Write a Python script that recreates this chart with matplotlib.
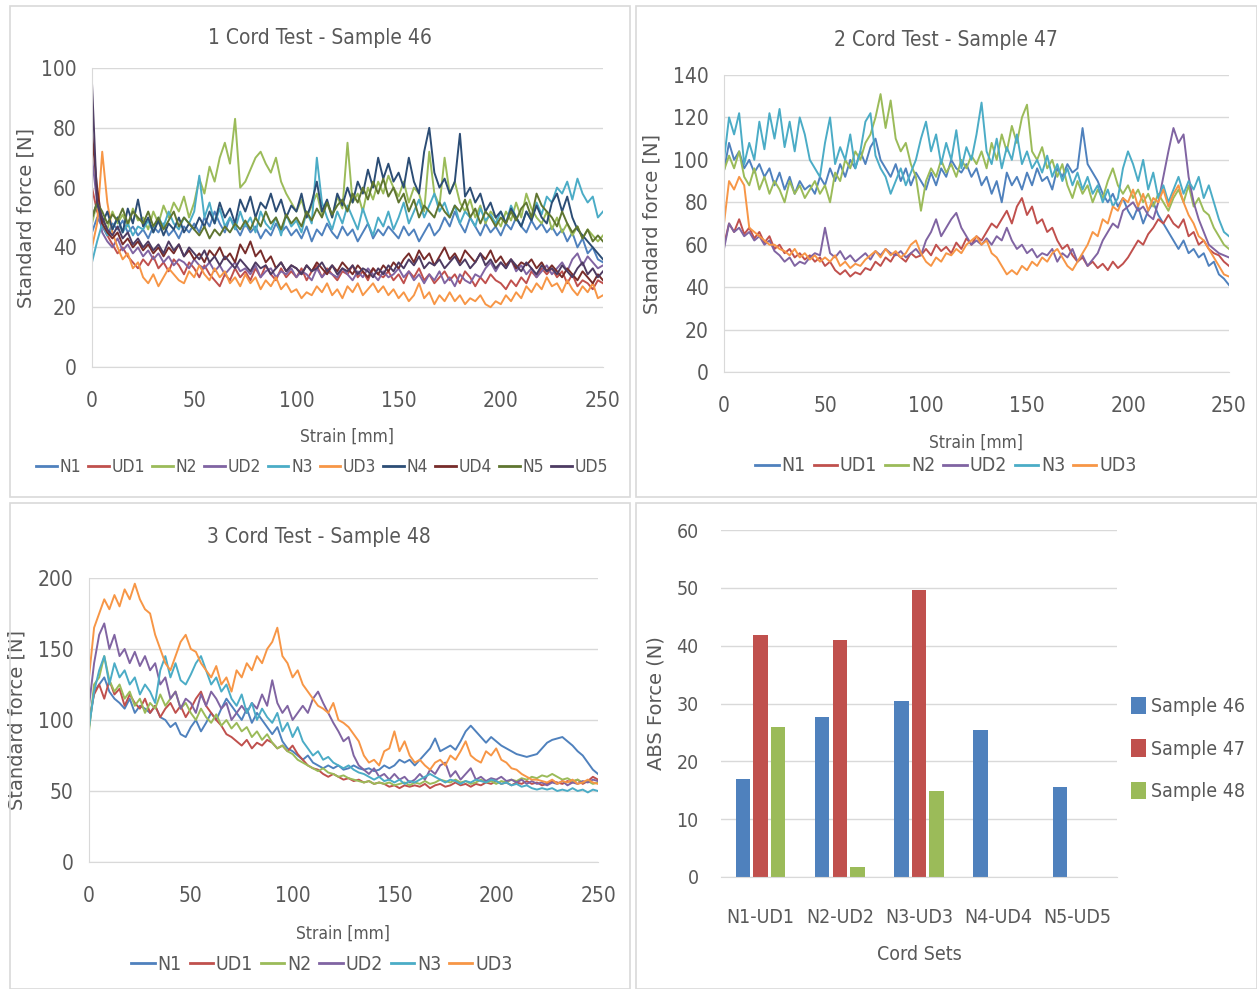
import numpy as np
import matplotlib.pyplot as plt
from matplotlib.patches import Rectangle
from matplotlib.lines import Line2D
from matplotlib.font_manager import FontProperties, findfont

W, H = 1257, 989
GREY = '#595959'
GRID = '#D9D9D9'

# pick a narrow face for the chart text
NARROW = FontProperties(family=['Liberation Sans Narrow', 'DejaVu Sans'], stretch='condensed')
NARROW_FILE = findfont(NARROW)


def narrow(size):
    return FontProperties(fname=NARROW_FILE, size=size)


colors = {'N1': '#4F81BD', 'UD1': '#C0504D', 'N2': '#9BBB59', 'UD2': '#8064A2',
          'N3': '#4BACC6', 'UD3': '#F79646', 'N4': '#2C4D75', 'UD4': '#772C2A',
          'N5': '#5F7530', 'UD5': '#4D3B62'}

# Sample 46 - force readings every 2.5 mm of strain (0..250 mm)
s46_N1 = [45, 50, 47, 44, 48, 46, 49, 45, 47, 44,
          46, 43, 47, 45, 48, 44, 46, 43, 47, 45,
          48, 45, 50, 47, 52, 48, 45, 50, 47, 44,
          48, 45, 47, 43, 46, 44, 48, 45, 47, 44,
          46, 43, 47, 42, 46, 44, 48, 45, 43, 47,
          44, 46, 42, 45, 48, 43, 46, 44, 47, 45,
          43, 47, 44, 46, 42, 45, 48, 44, 46, 50,
          47, 52, 48, 45, 50, 47, 44, 48, 45, 47,
          44, 48, 46, 50, 47, 45, 49, 46, 48, 45,
          47, 44, 46, 42, 45, 40, 43, 38, 40, 36,
          35]
s46_UD1 = [60, 52, 48, 44, 41, 38, 40, 37, 35, 33,
           36, 34, 37, 33, 35, 32, 36, 34, 31, 35,
           33, 30, 34, 31, 29, 27, 31, 29, 33, 30,
           32, 29, 33, 30, 34, 31, 29, 33, 30, 32,
           30, 33, 29, 32, 34, 30, 33, 31, 29, 32,
           31, 34, 30, 32, 29, 33, 31, 30, 32, 29,
           31, 28, 32, 30, 33, 29, 31, 28, 30, 32,
           29, 31, 28, 32, 30, 27, 30, 28, 31, 29,
           28, 26, 29, 27, 30, 28, 32, 30, 33, 31,
           33, 30, 32, 28, 31, 27, 29, 28, 26, 29,
           28]
s46_N2 = [48, 55, 50, 46, 52, 48, 51, 47, 53, 49,
          50, 46, 52, 48, 54, 50, 55, 52, 57, 50,
          55, 63, 58, 67, 62, 70, 75, 68, 83, 60,
          62, 66, 70, 72, 68, 65, 70, 62, 58, 55,
          52, 56, 50, 54, 58, 51, 55, 50, 57, 53,
          75, 55, 58, 52, 60, 56, 62, 58, 64, 60,
          57, 62, 55, 60, 58, 52, 72, 58, 54, 70,
          58, 62, 55, 52, 56, 50, 54, 48, 52, 50,
          47, 52, 49, 55, 50, 58, 53, 50, 48, 52,
          46, 50, 45, 48, 44, 47, 43, 46, 44, 42,
          44]
s46_UD2 = [70, 55, 45, 42, 40, 43, 39, 41, 38, 40,
           37, 39, 36, 38, 35, 37, 34, 36, 35, 33,
           36, 34, 33, 35, 32, 34, 31, 33, 35, 32,
           33, 31, 34, 30, 32, 33, 30, 32, 31, 33,
           30, 32, 31, 29, 33, 30, 32, 31, 30, 33,
           31, 29, 32, 30, 33, 31, 29, 32, 30, 31,
           33, 30, 32, 29, 31, 28, 31, 29, 32, 28,
           30, 27, 31, 29, 28, 31, 30, 33, 35, 32,
           35, 33, 36, 32, 34, 31, 33, 30, 32, 34,
           31, 33, 35, 32, 36, 38, 34, 37, 35, 33,
           34]
s46_N3 = [35, 42, 48, 44, 46, 50, 45, 48, 44, 47,
          46, 49, 45, 50, 47, 52, 48, 46, 50, 48,
          52, 64, 50, 55, 48, 53, 47, 50, 46, 52,
          47, 50, 45, 52, 48, 46, 50, 44, 51, 47,
          49, 45, 52, 48, 70, 55, 50, 46, 52, 48,
          54, 50, 46, 53, 48, 44, 50, 47, 52, 46,
          50, 55, 48, 52, 56, 50, 54, 58, 52, 55,
          50, 54, 48, 52, 50, 47, 53, 49, 51, 48,
          52, 48, 54, 50, 47, 52, 49, 55, 51, 57,
          55, 60, 58, 62, 56, 63, 58, 55, 57, 50,
          52]
s46_UD3 = [40, 48, 72, 55, 45, 40, 36, 38, 33, 35,
           30, 28, 31, 27, 30, 33, 31, 29, 28, 32,
           30, 34, 31, 29, 33, 30, 32, 28, 30, 27,
           31, 28, 30, 26, 29, 27, 30, 26, 28, 25,
           26, 23, 25, 24, 27, 25, 28, 24, 26, 23,
           27, 25, 28, 24, 26, 28, 25, 27, 24, 26,
           23, 25, 22, 24, 28, 23, 25, 21, 24, 22,
           25, 22, 24, 21, 23, 22, 24, 21, 20, 22,
           21, 24, 22, 25, 23, 27, 25, 28, 26, 30,
           27, 28, 25, 29, 26, 24, 27, 25, 28, 23,
           24]
s46_N4 = [50, 55, 48, 52, 46, 50, 45, 53, 48, 56,
          47, 50, 45, 49, 44, 48, 46, 50, 45, 48,
          46, 50, 47, 52, 48, 55, 50, 53, 48, 56,
          52, 57, 50, 55, 53, 58, 52, 56, 50, 54,
          52, 58, 50, 55, 62, 52, 56, 50, 58, 54,
          60, 55, 62, 58, 66, 60, 70, 63, 68, 62,
          65, 60, 70, 62, 58, 72, 80, 65, 60, 63,
          58, 62, 78, 57, 60, 55, 58, 52, 55, 50,
          52, 48, 53, 50, 47, 52, 49, 54, 50, 48,
          55, 58, 52, 57, 50, 46, 44, 42, 40, 38,
          36]
s46_UD4 = [78, 60, 48, 45, 43, 45, 41, 43, 40, 42,
           39, 41, 38, 40, 37, 40, 38, 41, 37, 39,
           36, 38, 35, 39, 37, 40, 36, 38, 35, 41,
           38, 42, 37, 39, 35, 37, 33, 35, 32, 34,
           33, 31, 34, 32, 35, 33, 31, 34, 32, 35,
           33, 31, 34, 32, 30, 33, 31, 34, 32, 35,
           33, 36, 38, 35, 39, 36, 38, 34, 37, 40,
           36, 38, 35, 39, 37, 35, 38, 36, 39, 35,
           37, 34, 36, 33, 35, 34, 36, 33, 35, 32,
           34, 32, 30, 33, 31, 29, 32, 30, 28, 31,
           29]
s46_N5 = [50, 55, 52, 48, 51, 49, 53, 48, 52, 50,
          48, 52, 47, 50, 46, 49, 52, 47, 50, 48,
          46, 44, 47, 43, 46, 44, 47, 45, 48, 46,
          49, 46, 50, 47, 52, 48, 50, 46, 51, 48,
          50, 47, 52, 49, 53, 50, 55, 51, 54, 56,
          52, 58, 55, 60, 56, 62, 58, 63, 57, 60,
          55, 58, 52, 56, 50, 54, 52, 50, 55, 52,
          50, 54, 52, 56, 50, 53, 48, 52, 50, 47,
          50, 48, 52, 49, 53, 55, 50, 58, 54, 52,
          50, 47, 52, 48, 45, 47, 43, 46, 42, 44,
          42]
s46_UD5 = [95, 55, 50, 46, 44, 47, 43, 45, 41, 43,
           40, 42, 39, 41, 38, 42, 39, 41, 37, 40,
           38, 36, 39, 35, 37, 34, 37, 35, 33, 36,
           34, 32, 35, 33, 34, 31, 33, 35, 32, 34,
           33, 31, 34, 32, 33, 35, 32, 34, 31, 33,
           32, 34, 31, 33, 32, 30, 33, 31, 34, 32,
           35, 33, 36, 34, 37, 33, 35, 34, 36, 33,
           35, 37, 34, 36, 33, 35, 38, 34, 36, 33,
           35, 33, 36, 34, 32, 35, 33, 31, 34, 32,
           33, 31, 34, 32, 30, 33, 35, 31, 33, 30,
           32]

# Sample 47
s47_N1 = [95, 108, 100, 104, 96, 100, 94, 98, 92, 96,
          88, 94, 86, 92, 84, 90, 86, 88, 84, 92,
          88, 96, 90, 98, 92, 100, 96, 104, 98, 106,
          110, 100, 96, 92, 98, 90, 96, 88, 94, 90,
          86, 94, 88, 96, 92, 100, 96, 94, 98, 92,
          96, 88, 92, 84, 90, 80, 94, 88, 92, 86,
          94, 88, 96, 90, 92, 86, 96, 92, 98, 94,
          96, 115, 98, 94, 90, 84, 80, 84, 78, 82,
          76, 72, 78, 70, 76, 80, 74, 70, 66, 62,
          58, 62, 56, 58, 54, 56, 50, 52, 46, 44,
          41]
s47_UD1 = [60, 70, 66, 72, 65, 68, 63, 66, 61, 64,
           58, 60, 56, 58, 54, 56, 53, 55, 52, 54,
           50, 52, 48, 46, 48, 45, 47, 46, 49, 48,
           52, 50, 54, 52, 56, 54, 52, 56, 54, 55,
           58, 55, 60, 57, 59, 56, 61, 58, 63, 60,
           64, 62, 66, 70, 68, 72, 76, 70, 78, 82,
           74, 78, 70, 72, 66, 68, 62, 58, 60, 55,
           52, 54, 50, 52, 49, 51, 48, 52, 49, 51,
           54, 58, 62, 60, 65, 68, 72, 70, 74, 70,
           68, 72, 64, 66, 60, 62, 58, 56, 55, 52,
           50]
s47_N2 = [95, 102, 96, 104, 92, 88, 96, 86, 92, 84,
          90, 86, 80, 90, 84, 88, 82, 86, 90, 84,
          88, 80, 94, 90, 100, 96, 104, 100, 108, 112,
          120, 131, 115, 128, 110, 104, 108, 98, 92, 76,
          90, 96, 92, 100, 94, 98, 92, 100, 96, 102,
          98, 104, 96, 108, 100, 112, 104, 116, 108, 120,
          126, 104, 100, 106, 96, 100, 92, 98, 88, 82,
          90, 84, 88, 80, 86, 82, 90, 96, 88, 84,
          88, 82, 86, 80, 84, 78, 84, 80, 76, 82,
          86, 80, 88, 78, 82, 76, 74, 68, 64, 60,
          58]
s47_UD2 = [58, 70, 66, 68, 64, 66, 62, 64, 60, 62,
           57, 55, 52, 54, 50, 52, 51, 54, 56, 55,
           68, 56, 54, 57, 53, 55, 52, 54, 56, 53,
           57, 55, 58, 56, 55, 57, 54, 56, 58, 55,
           62, 66, 72, 64, 68, 72, 75, 68, 64, 60,
           62, 60, 63, 60, 64, 62, 68, 62, 58, 60,
           56, 58, 54, 56, 55, 58, 52, 56, 54, 58,
           52, 55, 50, 53, 56, 62, 66, 70, 68, 76,
           78, 80, 76, 78, 74, 72, 80, 92, 104, 115,
           108, 112, 92, 80, 72, 66, 60, 58, 56, 55,
           54]
s47_N3 = [100, 120, 112, 122, 98, 108, 100, 118, 105, 122,
          110, 124, 106, 118, 104, 120, 112, 100, 96, 92,
          108, 120, 98, 106, 100, 112, 96, 104, 118, 122,
          102, 96, 92, 84, 90, 96, 88, 94, 100, 110,
          118, 104, 112, 98, 108, 100, 114, 96, 106, 100,
          112, 127, 104, 98, 110, 96, 106, 100, 112, 98,
          104, 96, 100, 94, 102, 92, 98, 90, 96, 88,
          94, 86, 92, 84, 88, 80, 86, 78, 82, 96,
          104, 98, 90, 100, 86, 94, 82, 88, 80, 86,
          92, 84, 90, 86, 92, 82, 88, 80, 72, 66,
          64]
s47_UD3 = [70, 90, 86, 92, 88, 68, 66, 64, 62, 60,
           60, 58, 57, 55, 58, 54, 56, 53, 55, 52,
           54, 52, 55, 50, 52, 49, 51, 50, 53, 55,
           57, 54, 58, 55, 57, 54, 56, 60, 62, 56,
           52, 50, 54, 52, 56, 55, 58, 56, 60, 62,
           64, 60, 62, 56, 54, 50, 46, 48, 46, 50,
           48, 52, 50, 54, 52, 56, 58, 54, 50, 48,
           52, 56, 60, 66, 64, 72, 70, 78, 76, 82,
           80, 86, 78, 84, 76, 82, 80, 86, 78, 84,
           88, 80, 74, 70, 64, 62, 58, 54, 50, 46,
           45]

# Sample 48
s48_N1 = [95, 120, 125, 130, 120, 115, 112, 108, 115, 105,
          110, 108, 105, 110, 102, 100, 95, 98, 90, 88,
          95, 100, 92, 98, 105, 100, 108, 115, 110, 105,
          100, 108, 98, 105, 100, 95, 90, 95, 85, 80,
          78, 75, 72, 75, 70, 68, 66, 68, 66, 68,
          65, 66, 68, 66, 65, 66, 64, 65, 68, 66,
          68, 72, 70, 72, 68, 72, 76, 80, 87, 78,
          80, 82, 79, 85, 92, 96, 92, 88, 84, 88,
          85, 82, 80, 78, 76, 75, 74, 75, 76, 80,
          84, 86, 87, 88, 85, 82, 78, 75, 70, 65,
          62]
s48_UD1 = [100, 118, 125, 115, 128, 118, 122, 110, 118, 112,
           108, 115, 105, 110, 102, 108, 112, 105, 110, 102,
           108, 115, 120, 110, 105, 100, 96, 90, 88, 85,
           82, 86, 80, 84, 82, 86, 84, 80, 82, 78,
           82, 76, 72, 68, 66, 65, 62, 60, 62, 60,
           58, 59, 57, 58, 56, 57, 55, 56, 55, 53,
           54, 52, 54, 53, 54, 53, 55, 52, 54, 55,
           53, 54, 56, 54, 55, 53, 55, 54, 56, 55,
           57, 55, 56, 54, 56, 55, 57, 55, 56, 54,
           55, 57, 56, 55, 57, 56, 58, 55, 57, 60,
           58]
s48_N2 = [92, 125, 130, 145, 128, 120, 125, 115, 120, 110,
          115, 105, 112, 108, 118, 110, 115, 120, 108, 112,
          105, 100, 108, 102, 98, 104, 96, 100, 94, 98,
          92, 95, 88, 92, 86, 90, 84, 80, 82, 78,
          76, 72, 70, 68, 66, 64, 66, 63, 62, 60,
          61, 59, 58, 57, 56, 57, 55, 56, 55, 56,
          54, 55, 56, 54, 56, 55, 57, 55, 56, 58,
          57, 56, 58, 56, 57, 55, 56, 58, 56, 57,
          55, 57, 56, 58, 57, 59, 58, 60, 59, 61,
          60, 62, 60, 58, 59, 57, 58, 56, 57, 55,
          56]
s48_UD2 = [110, 140, 160, 168, 150, 160, 145, 150, 140, 148,
           138, 145, 135, 140, 125, 130, 115, 120, 108, 115,
           112, 105, 118, 110, 120, 115, 108, 112, 100, 105,
           110, 105, 112, 108, 118, 110, 128, 112, 105, 110,
           100, 105, 110, 105, 115, 120, 112, 105, 98, 92,
           85, 88, 75, 68, 65, 62, 66, 60, 62, 58,
           62, 58, 60, 56, 58, 62, 58, 65, 62, 68,
           70, 60, 64, 58, 62, 66, 58, 60, 57, 59,
           58, 60, 57, 58, 56, 58, 55, 57, 55, 56,
           54, 56, 55, 57, 54, 56, 55, 57, 56, 58,
           57]
s48_N3 = [95, 120, 135, 145, 125, 140, 130, 135, 125, 130,
          118, 125, 120, 112, 135, 145, 130, 140, 128, 125,
          132, 140, 145, 135, 125, 130, 120, 125, 115, 110,
          118, 105, 112, 100, 108, 102, 98, 105, 92, 98,
          88, 95, 85, 80, 75, 78, 72, 74, 70, 68,
          66, 68, 65, 63, 62, 60, 58, 60, 57, 58,
          56, 58, 55, 57, 56, 58, 60, 62, 60, 58,
          56, 58, 57, 55, 57, 56, 58, 57, 56, 58,
          57, 55, 56, 54, 55, 53, 54, 52, 51, 52,
          51, 52, 50, 51, 50, 52, 50, 51, 49, 51,
          50]
s48_UD3 = [130, 165, 175, 185, 178, 188, 180, 192, 185, 196,
           185, 178, 175, 160, 150, 140, 135, 145, 155, 160,
           150, 148, 140, 135, 130, 138, 125, 130, 120, 135,
           130, 140, 135, 145, 140, 150, 155, 165, 145, 140,
           130, 135, 125, 120, 115, 110, 108, 105, 112, 100,
           98, 95, 90, 85, 75, 70, 72, 68, 78, 80,
           92, 78, 85, 75, 70, 72, 68, 65, 70, 72,
           68, 75, 72, 78, 85, 75, 72, 70, 78, 75,
           80, 72, 70, 66, 65, 62, 60, 58, 58, 57,
           56, 58, 55, 57, 56, 58, 55, 56, 58, 56,
           55]

# Absolute force difference between cord pairs
cord_sets = ['N1-UD1', 'N2-UD2', 'N3-UD3', 'N4-UD4', 'N5-UD5']
abs_46 = [17.0, 27.7, 30.4, 25.5, 15.5]
abs_47 = [41.9, 41.0, 49.7, 0, 0]
abs_48 = [26.0, 1.8, 14.9, 0, 0]

panels = [
    ('1 Cord Test - Sample 46', [('N1', s46_N1), ('UD1', s46_UD1), ('N2', s46_N2), ('UD2', s46_UD2),
                                 ('N3', s46_N3), ('UD3', s46_UD3), ('N4', s46_N4), ('UD4', s46_UD4),
                                 ('N5', s46_N5), ('UD5', s46_UD5)], 100, 20),
    ('2 Cord Test - Sample 47', [('N1', s47_N1), ('UD1', s47_UD1), ('N2', s47_N2), ('UD2', s47_UD2),
                                 ('N3', s47_N3), ('UD3', s47_UD3)], 140, 20),
    ('3 Cord Test - Sample 48', [('N1', s48_N1), ('UD1', s48_UD1), ('N2', s48_N2), ('UD2', s48_UD2),
                                 ('N3', s48_N3), ('UD3', s48_UD3)], 200, 50),
]

# pixel layout of each panel: frame box, plot box, title, x label, y label and legend centres
layout = [
    dict(frame=(10, 6, 630, 497), plot=(92, 68, 603, 367), title=(320, 38), xlab=(347, 437),
         ylab=35, leg=(322, 467), legsize=12.5),
    dict(frame=(636, 6, 1257, 497), plot=(724, 75, 1229, 372), title=(946, 40), xlab=(976, 443),
         ylab=662, leg=(946, 466), legsize=14),
    dict(frame=(10, 503, 630, 989), plot=(89, 578, 598, 862), title=(319, 537), xlab=(343, 934),
         ylab=27, leg=(322, 964), legsize=14),
]


def fx(x):
    return x / W


def fy(y):
    return 1 - y / H


def frame(fig, box):
    x0, y0, x1, y1 = box
    fig.patches.append(Rectangle((fx(x0), fy(y1)), fx(x1 - x0), (y1 - y0) / H,
                                 transform=fig.transFigure, fill=False, edgecolor=GRID, lw=1.2))


def add_axes(fig, box):
    x0, y0, x1, y1 = box
    return fig.add_axes([fx(x0), fy(y1), fx(x1 - x0), (y1 - y0) / H])


def style(ax, ymax, ystep, size=15):
    ax.set_ylim(0, ymax)
    ax.set_yticks(np.arange(0, ymax + 1, ystep))
    ax.grid(axis='y', color=GRID, lw=1)
    ax.set_axisbelow(True)
    for side in ['top', 'right']:
        ax.spines[side].set_visible(False)
    for side in ['left', 'bottom']:
        ax.spines[side].set_color(GRID)
    ax.tick_params(length=0, colors=GREY)
    for lab in ax.get_xticklabels() + ax.get_yticklabels():
        lab.set_fontproperties(narrow(size))


fig = plt.figure(figsize=(W / 100, H / 100), dpi=100)

for (title, series, ymax, ystep), lay in zip(panels, layout):
    frame(fig, lay['frame'])
    ax = add_axes(fig, lay['plot'])
    handles = []
    for name, vals in series:
        strain = np.linspace(0, 250, len(vals))
        ax.plot(strain, vals, color=colors[name], lw=1.4)
        handles.append(Line2D([], [], color=colors[name], lw=2))
    ax.set_xlim(0, 250)
    ax.set_xticks(range(0, 251, 50))
    style(ax, ymax, ystep)
    ax.tick_params(axis='x', pad=17)
    ax.tick_params(axis='y', pad=11)
    fig.text(fx(lay['title'][0]), fy(lay['title'][1]), title, ha='center', va='center',
             color=GREY, fontproperties=narrow(15))
    fig.text(fx(lay['xlab'][0]), fy(lay['xlab'][1]), 'Strain [mm]', ha='center', va='center',
             color=GREY, fontproperties=narrow(12.5))
    x0, y0, x1, y1 = lay['plot']
    ax.set_ylabel('Standard force [N]', fontsize=14, color=GREY)
    ax.yaxis.set_label_coords((lay['ylab'] - x0) / (x1 - x0), 0.5)
    fig.legend(handles, [n for n, _ in series], loc='center',
               bbox_to_anchor=(fx(lay['leg'][0]), fy(lay['leg'][1])), ncol=len(series),
               frameon=False, handlelength=1.2, handletextpad=0.15, columnspacing=0.4,
               prop=narrow(lay['legsize']), labelcolor=GREY)

# bar chart of absolute force per cord set
frame(fig, (636, 503, 1257, 989))
ax = add_axes(fig, (721, 530, 1117, 877))
pos = np.arange(len(cord_sets))
off = 0.222
ax.bar(pos - off, abs_46, 0.18, color='#4F81BD', label='Sample 46')
ax.bar(pos, abs_47, 0.18, color='#C0504D', label='Sample 47')
ax.bar(pos + off, abs_48, 0.18, color='#9BBB59', label='Sample 48')
ax.set_xlim(-0.5, len(cord_sets) - 0.5)
ax.set_xticks(pos)
ax.set_xticklabels(cord_sets)
style(ax, 60, 10, size=14)
ax.spines['left'].set_visible(False)
ax.tick_params(axis='x', pad=22)
ax.tick_params(axis='y', pad=16)
ax.set_ylabel('ABS Force (N)', fontsize=14, color=GREY)
ax.yaxis.set_label_coords((666 - 721) / (1117 - 721), 0.5)
fig.text(fx(919), fy(955), 'Cord Sets', ha='center', va='center', color=GREY, fontproperties=narrow(14))
ax.legend(loc='center left', bbox_to_anchor=((1131 - 721) / (1117 - 721), (877 - 749) / (877 - 530)),
          frameon=False, handlelength=0.75, handleheight=1.0, handletextpad=0.3, labelspacing=1.2,
          borderaxespad=0, borderpad=0, prop=narrow(14), labelcolor=GREY)

fig.savefig('out.png', dpi=100)
